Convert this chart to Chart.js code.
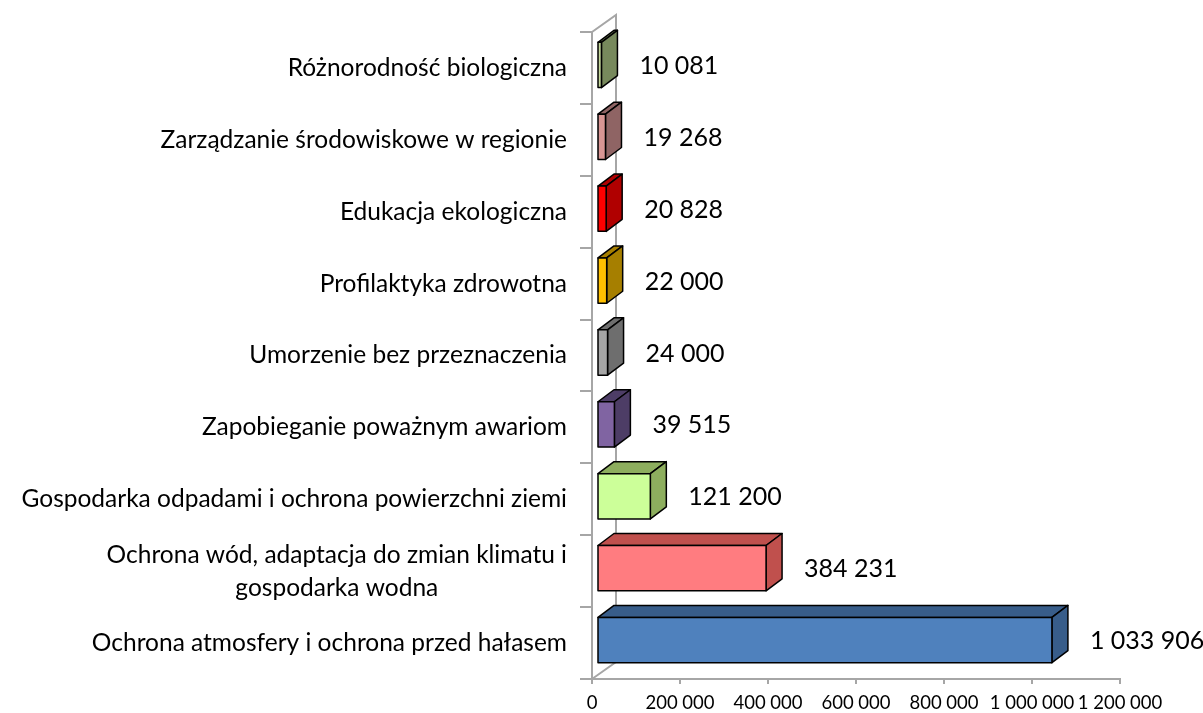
<!DOCTYPE html>
<html>
<head>
<meta charset="utf-8">
<script src="https://cdn.jsdelivr.net/npm/chart.js@4/dist/chart.umd.min.js"></script>
<style>
  html, body { margin: 0; padding: 0; background: #fff; }
  #wrap { width: 1203px; height: 713px; }
</style>
</head>
<body>
<div id="wrap"><canvas id="chart" width="1203" height="713"></canvas></div>
<script>
// Categories top to bottom as shown in the picture
const categories = [
    'Różnorodność biologiczna',
    'Zarządzanie środowiskowe w regionie',
    'Edukacja ekologiczna',
    'Profilaktyka zdrowotna',
    'Umorzenie bez przeznaczenia',
    'Zapobieganie poważnym awariom',
    'Gospodarka odpadami i ochrona powierzchni ziemi',
    ['Ochrona wód, adaptacja do zmian klimatu i', 'gospodarka wodna'],
    'Ochrona atmosfery i ochrona przed hałasem'
];
const values = [10081, 19268, 20828, 22000, 24000, 39515, 121200, 384231, 1033906];

// front face colour and darker shade for top / side faces
const frontColors = ['#C4D79B', '#D99694', '#FF0000', '#FFC000', '#A6A6A6', '#8064A2', '#CCFF99', '#FF7C80', '#4F81BD'];
const sideColors = ['#77895C', '#8F6464', '#B00000', '#A67F00', '#6E6E6E', '#4D3D66', '#8DAE5E', '#C0504D', '#385D8A'];

const xTicks = [0, 200000, 400000, 600000, 800000, 1000000, 1200000];

const FONT = 'Lato';
const axisColor = '#A6A6A6';

// 3D look
const depthX = 16, depthY = -12;   // bar depth
const shiftX = 5, shiftY = -3;     // bars sit a bit inside the floor
const wallX = 24, wallY = -17;     // back wall offset

function fmt(v) {
    return String(v).replace(/\B(?=(\d{3})+(?!\d))/g, ' ');
}

// back wall + floor edge lines
const wallPlugin = {
    id: 'wall',
    beforeDatasetsDraw(chart) {
        const { ctx, chartArea } = chart;
        const l = chartArea.left, t = chartArea.top, b = chartArea.bottom;
        ctx.save();
        ctx.strokeStyle = axisColor;
        ctx.lineWidth = 2;
        ctx.beginPath();
        ctx.moveTo(l, t);
        ctx.lineTo(l + wallX, t + wallY);
        ctx.lineTo(l + wallX, b + wallY);
        ctx.lineTo(l, b);
        ctx.stroke();
        ctx.restore();
    }
};

// draw each bar as a box
const boxPlugin = {
    id: 'box3d',
    afterDatasetsDraw(chart) {
        const { ctx } = chart;
        const meta = chart.getDatasetMeta(0);
        ctx.save();
        ctx.lineWidth = 1.5;
        ctx.strokeStyle = '#000';
        ctx.lineJoin = 'round';
        meta.data.forEach((bar, i) => {
            const x0 = bar.base + shiftX, x1 = bar.x + shiftX;
            const y0 = bar.y - bar.height / 2 + shiftY, y1 = bar.y + bar.height / 2 + shiftY;

            // top face
            ctx.fillStyle = sideColors[i];
            ctx.beginPath();
            ctx.moveTo(x0, y0);
            ctx.lineTo(x0 + depthX, y0 + depthY);
            ctx.lineTo(x1 + depthX, y0 + depthY);
            ctx.lineTo(x1, y0);
            ctx.closePath();
            ctx.fill();
            ctx.stroke();

            // side face
            ctx.beginPath();
            ctx.moveTo(x1, y0);
            ctx.lineTo(x1 + depthX, y0 + depthY);
            ctx.lineTo(x1 + depthX, y1 + depthY);
            ctx.lineTo(x1, y1);
            ctx.closePath();
            ctx.fill();
            ctx.stroke();

            // front face
            ctx.fillStyle = frontColors[i];
            ctx.beginPath();
            ctx.rect(x0, y0, x1 - x0, y1 - y0);
            ctx.fill();
            ctx.stroke();

            // value label
            ctx.fillStyle = '#000';
            ctx.font = '25px ' + FONT;
            ctx.textAlign = 'left';
            ctx.textBaseline = 'middle';
            ctx.fillText(fmt(values[i]), bar.x + 43, bar.y - 2);
        });
        ctx.restore();
    }
};

// category labels: right aligned, extra lines centred under the first
const labelPlugin = {
    id: 'catLabels',
    afterDraw(chart) {
        const { ctx, chartArea } = chart;
        const yScale = chart.scales.y;
        const right = chartArea.left - 25;
        const lineH = 33;
        ctx.save();
        ctx.fillStyle = '#000';
        ctx.font = '24.5px ' + FONT;
        ctx.textBaseline = 'middle';
        categories.forEach((lab, i) => {
            const y = yScale.getPixelForTick(i);
            const lines = Array.isArray(lab) ? lab : [lab];
            const widest = Math.max(...lines.map(s => ctx.measureText(s).width));
            const startY = y - (lines.length - 1) * lineH / 2;
            lines.forEach((s, k) => {
                if (k === 0) {
                    ctx.textAlign = 'right';
                    ctx.fillText(s, right, startY);
                } else {
                    ctx.textAlign = 'center';
                    ctx.fillText(s, right - widest / 2, startY + k * lineH);
                }
            });
        });
        ctx.restore();
    }
};

const ctx = document.getElementById('chart').getContext('2d');
const chart = new Chart(ctx, {
    type: 'bar',
    data: {
        labels: categories,
        datasets: [{
            data: values,
            backgroundColor: 'rgba(0,0,0,0)',
            borderWidth: 0,
            barPercentage: 0.63,
            categoryPercentage: 1
        }]
    },
    options: {
        indexAxis: 'y',
        responsive: false,
        animation: false,
        layout: { padding: { top: 32, right: 83, left: 0, bottom: 0 } },
        plugins: {
            legend: { display: false },
            tooltip: { enabled: false }
        },
        scales: {
            x: {
                min: xTicks[0],
                max: xTicks[xTicks.length - 1],
                afterBuildTicks: (scale) => { scale.ticks = xTicks.map(v => ({ value: v })); },
                ticks: {
                    callback: (v) => fmt(v),
                    font: { family: FONT, size: 18.5 },
                    color: '#000',
                    maxRotation: 0,
                    autoSkip: false,
                    padding: 8
                },
                grid: { drawOnChartArea: false, tickLength: 5, color: axisColor, lineWidth: 2 },
                border: { color: axisColor, width: 2 },
                afterFit: (scale) => { scale.height = 34; }
            },
            y: {
                ticks: { display: false },
                grid: { drawOnChartArea: false, tickLength: 12, color: axisColor, lineWidth: 2, offset: true },
                border: { color: axisColor, width: 2 },
                afterFit: (scale) => { scale.width = 592; }
            }
        }
    },
    plugins: [wallPlugin, boxPlugin, labelPlugin]
});
</script>
</body>
</html>
